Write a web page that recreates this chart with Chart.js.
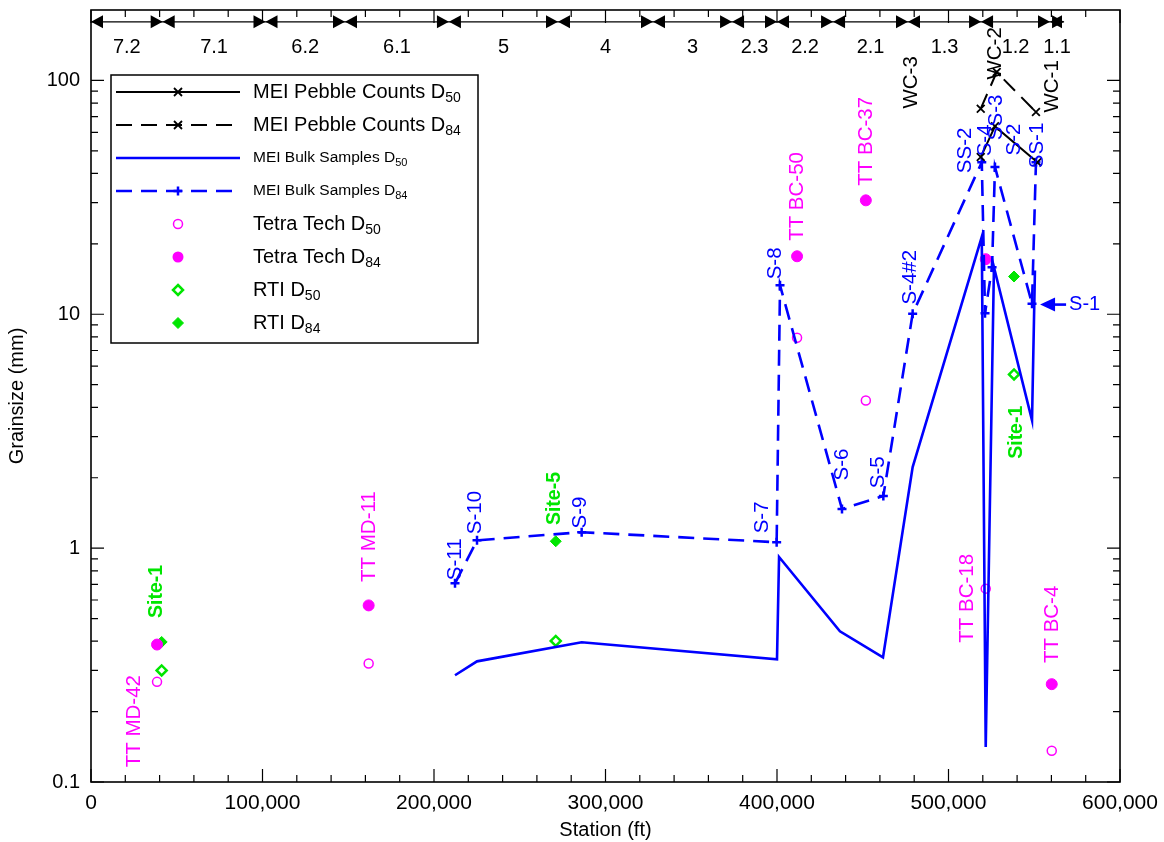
<!DOCTYPE html>
<html>
<head>
<meta charset="utf-8">
<script src="https://cdn.jsdelivr.net/npm/chart.js@4.4.1/dist/chart.umd.min.js"></script>
<style>
  body { margin: 0; background: #fff; }
  canvas { display: block; }
</style>
</head>
<body>
<canvas id="grain-chart" width="1164" height="842"></canvas>
<script>
// station (ft) and grain size (mm)
const pebbleD50Station = [518800, 527100, 551800];
const pebbleD50 = [47.0, 63.6, 44.7];
const pebbleD84Station = [518800, 528100, 551000];
const pebbleD84 = [75.7, 108.5, 73.2];

const bulkD50Station = [212250, 225080, 286100, 400000, 401200, 436700, 461800, 479100, 519400, 521700, 526500, 548700, 550400];
const bulkD50 = [0.286, 0.328, 0.396, 0.335, 0.916, 0.441, 0.341, 2.22, 21.4, 0.141, 15.9, 3.52, 15.4];
const bulkD84Station = [212250, 225080, 286100, 399800, 401760, 437900, 462000, 479100, 519400, 521300, 525400, 527100, 548700, 551000];
const bulkD84 = [0.707, 1.08, 1.17, 1.06, 13.3, 1.47, 1.67, 10.06, 44.7, 10.1, 15.9, 42.6, 11.1, 44.7];

const ttStation = [38500, 161900, 411700, 451800, 521700, 560200];
const ttD50 = [0.268, 0.321, 7.94, 4.28, 0.671, 0.136];
const ttD84 = [0.387, 0.569, 17.7, 30.7, 17.2, 0.262];

const rtiStation = [41200, 271000, 538200];
const rtiD50 = [0.300, 0.401, 5.53];
const rtiD84 = [0.397, 1.07, 14.5];

const reachNames = ['7.2', '7.1', '6.2', '6.1', '5', '4', '3', '2.3', '2.2', '2.1', '1.3', '1.2', '1.1'];
const reachBounds = [0, 41800, 101750, 148100, 208700, 272300, 327700, 373800, 400000, 432700, 476400, 519000, 559200, 567400];

const yTickLabels = [0.1, 1, 10, 100];

// sample labels: text, station, grain size, group
const siteLabels = [
  ['TT MD-42', 25070, 0.182, 'tt'],
  ['Site-1', 38480, 0.653, 'rti'],
  ['TT MD-11', 162100, 1.12, 'tt'],
  ['S-11', 212250, 0.896, 'bulk'],
  ['S-10', 223900, 1.42, 'bulk'],
  ['Site-5', 270550, 1.63, 'rti'],
  ['S-9', 285100, 1.42, 'bulk'],
  ['S-7', 391300, 1.354, 'bulk'],
  ['S-8', 398800, 16.5, 'bulk'],
  ['TT BC-50', 411700, 31.9, 'tt'],
  ['TT BC-37', 451900, 54.9, 'tt'],
  ['S-6', 437900, 2.28, 'bulk'],
  ['S-5', 458900, 2.11, 'bulk'],
  ['S-4#2', 477600, 14.4, 'bulk'],
  ['WC-3', 478100, 98.1, 'pebble'],
  ['SS-2', 509600, 50.2, 'bulk'],
  ['S-4', 521300, 55.4, 'bulk'],
  ['SS-3', 527700, 69.5, 'bulk'],
  ['WC-2', 527100, 130.5, 'pebble'],
  ['S-2', 538200, 55.9, 'bulk'],
  ['SS-1', 551600, 52.7, 'bulk'],
  ['WC-1', 560400, 94.3, 'pebble'],
  ['Site-1', 540000, 3.13, 'rti'],
  ['TT BC-18', 510800, 0.61, 'tt'],
  ['TT BC-4', 560400, 0.472, 'tt']
];
const arrowLabel = ['S-1', 553400, 11.0];

const FONT = '"Liberation Sans", Arial, Helvetica, sans-serif';
const BLUE = '#0000ff';
const MAGENTA = '#ff00ff';
const GREEN = '#00e600';
const groupColor = { tt: MAGENTA, rti: GREEN, bulk: BLUE, pebble: '#000' };
const DASH = [16, 9];

const pts = (xs, ys) => xs.map((x, i) => ({ x: x, y: ys[i] }));

const datasets = [
  { data: pts(pebbleD50Station, pebbleD50), showLine: true, borderColor: '#000', borderWidth: 2,
    pointStyle: 'crossRot', pointRadius: 5.5, pointBorderWidth: 1.8, pointBorderColor: '#000' },
  { data: pts(pebbleD84Station, pebbleD84), showLine: true, borderColor: '#000', borderWidth: 2, borderDash: DASH,
    pointStyle: 'crossRot', pointRadius: 5.5, pointBorderWidth: 1.8, pointBorderColor: '#000' },
  { data: pts(bulkD50Station, bulkD50), showLine: true, borderColor: BLUE, borderWidth: 2.6, pointRadius: 0 },
  { data: pts(bulkD84Station, bulkD84), showLine: true, borderColor: BLUE, borderWidth: 2.6, borderDash: DASH,
    pointStyle: 'cross', pointRadius: 4.5, pointBorderWidth: 2.5, pointBorderColor: BLUE },
  { data: pts(ttStation, ttD50), showLine: false, pointStyle: 'circle', pointRadius: 4.5,
    pointBackgroundColor: '#fff', pointBorderColor: MAGENTA, pointBorderWidth: 1.5 },
  { data: pts(ttStation, ttD84), showLine: false, pointStyle: 'circle', pointRadius: 5.5,
    pointBackgroundColor: MAGENTA, pointBorderColor: MAGENTA, pointBorderWidth: 1 },
  { data: pts(rtiStation, rtiD50), showLine: false, pointStyle: 'rectRot', pointRadius: 5,
    pointBackgroundColor: '#fff', pointBorderColor: GREEN, pointBorderWidth: 2.5 },
  { data: pts(rtiStation, rtiD84), showLine: false, pointStyle: 'rectRot', pointRadius: 5.5,
    pointBackgroundColor: GREEN, pointBorderColor: GREEN, pointBorderWidth: 1 }
];

function drawMarker(ctx, kind, x, y) {
  ctx.save();
  ctx.beginPath();
  if (kind === 'x') {
    ctx.strokeStyle = '#000'; ctx.lineWidth = 1.8;
    ctx.moveTo(x - 4, y - 4); ctx.lineTo(x + 4, y + 4);
    ctx.moveTo(x - 4, y + 4); ctx.lineTo(x + 4, y - 4);
    ctx.stroke();
  } else if (kind === '+') {
    ctx.strokeStyle = BLUE; ctx.lineWidth = 2.5;
    ctx.moveTo(x - 4.5, y); ctx.lineTo(x + 4.5, y);
    ctx.moveTo(x, y - 4.5); ctx.lineTo(x, y + 4.5);
    ctx.stroke();
  } else if (kind === 'oc') {
    ctx.arc(x, y, 4.5, 0, Math.PI * 2);
    ctx.fillStyle = '#fff'; ctx.fill();
    ctx.strokeStyle = MAGENTA; ctx.lineWidth = 1.5; ctx.stroke();
  } else if (kind === 'fc') {
    ctx.arc(x, y, 5.5, 0, Math.PI * 2);
    ctx.fillStyle = MAGENTA; ctx.fill();
  } else {
    const r = kind === 'od' ? 5 : 5.5;
    ctx.moveTo(x, y - r); ctx.lineTo(x + r, y); ctx.lineTo(x, y + r); ctx.lineTo(x - r, y); ctx.closePath();
    ctx.fillStyle = kind === 'od' ? '#fff' : GREEN; ctx.fill();
    ctx.strokeStyle = GREEN; ctx.lineWidth = kind === 'od' ? 2.5 : 1; ctx.stroke();
  }
  ctx.restore();
}

const legendItems = [
  { text: 'MEI Pebble Counts D', sub: '50', size: 20, color: '#000', dash: [], marker: 'x' },
  { text: 'MEI Pebble Counts D', sub: '84', size: 20, color: '#000', dash: DASH, marker: 'x' },
  { text: 'MEI Bulk Samples D', sub: '50', size: 15.5, color: BLUE, dash: [], marker: null },
  { text: 'MEI Bulk Samples D', sub: '84', size: 15.5, color: BLUE, dash: DASH, marker: '+' },
  { text: 'Tetra Tech D', sub: '50', size: 20, marker: 'oc' },
  { text: 'Tetra Tech D', sub: '84', size: 20, marker: 'fc' },
  { text: 'RTI D', sub: '50', size: 20, marker: 'od' },
  { text: 'RTI D', sub: '84', size: 20, marker: 'fd' }
];

const decorPlugin = {
  id: 'decor',
  afterDatasetsDraw(chart) {
    const { ctx, chartArea: a } = chart;
    const xs = chart.scales.x, ys = chart.scales.y;
    ctx.save();

    // frame and inward ticks
    ctx.strokeStyle = '#000';
    ctx.lineWidth = 1.6;
    ctx.strokeRect(a.left, a.top, a.right - a.left, a.bottom - a.top);
    ctx.lineWidth = 1.2;
    ctx.beginPath();
    for (let v = 0; v <= 600000; v += 20000) {
      const px = xs.getPixelForValue(v);
      const len = v % 100000 === 0 ? 13 : 7;
      ctx.moveTo(px, a.bottom); ctx.lineTo(px, a.bottom - len);
      ctx.moveTo(px, a.top); ctx.lineTo(px, a.top + len);
    }
    for (const d of [0.1, 1, 10, 100]) {
      for (let m = 1; m <= 9; m++) {
        const v = d * m;
        if (v >= 199) break;
        const py = ys.getPixelForValue(v);
        const len = m === 1 ? 13 : 7;
        ctx.moveTo(a.left, py); ctx.lineTo(a.left + len, py);
        ctx.moveTo(a.right, py); ctx.lineTo(a.right - len, py);
      }
    }
    ctx.stroke();

    // reach bar along the top
    const lineY = ys.getPixelForValue(178);
    const labY = ys.getPixelForValue(138);
    const first = xs.getPixelForValue(reachBounds[0]);
    const last = xs.getPixelForValue(reachBounds[reachBounds.length - 1]);
    ctx.lineWidth = 1.2;
    ctx.beginPath();
    ctx.moveTo(first, lineY); ctx.lineTo(last, lineY);
    ctx.stroke();
    ctx.fillStyle = '#000';
    const tw = 12, th = 6.5;
    ctx.font = '20px ' + FONT;
    ctx.textAlign = 'center';
    ctx.textBaseline = 'middle';
    reachNames.forEach((name, i) => {
      const p0 = xs.getPixelForValue(reachBounds[i]);
      const p1 = xs.getPixelForValue(reachBounds[i + 1]);
      ctx.beginPath();
      ctx.moveTo(p0, lineY); ctx.lineTo(p0 + tw, lineY - th); ctx.lineTo(p0 + tw, lineY + th); ctx.closePath();
      ctx.fill();
      ctx.beginPath();
      ctx.moveTo(p1, lineY); ctx.lineTo(p1 - tw, lineY - th); ctx.lineTo(p1 - tw, lineY + th); ctx.closePath();
      ctx.fill();
      ctx.fillText(name, (p0 + p1) / 2, labY);
    });

    // sample labels, rotated
    siteLabels.forEach(([text, sx, sy, grp]) => {
      const px = xs.getPixelForValue(sx), py = ys.getPixelForValue(sy);
      ctx.save();
      ctx.translate(px, py);
      ctx.rotate(-Math.PI / 2);
      ctx.fillStyle = groupColor[grp];
      ctx.font = (grp === 'rti' ? 'bold 19.5px ' : '20.5px ') + FONT;
      ctx.fillText(text, 0, 0);
      ctx.restore();
    });

    // S-1 arrow
    const ax = xs.getPixelForValue(arrowLabel[1]), ay = ys.getPixelForValue(arrowLabel[2]);
    ctx.fillStyle = BLUE; ctx.strokeStyle = BLUE; ctx.lineWidth = 2.6;
    ctx.beginPath();
    ctx.moveTo(ax, ay); ctx.lineTo(ax + 15, ay - 7); ctx.lineTo(ax + 15, ay + 7); ctx.closePath();
    ctx.fill();
    ctx.beginPath(); ctx.moveTo(ax + 12, ay); ctx.lineTo(ax + 26, ay); ctx.stroke();
    ctx.font = '20px ' + FONT;
    ctx.textAlign = 'left';
    ctx.fillText(arrowLabel[0], ax + 29, ay);

    // legend
    const lx = 111, ly = 75, lw = 367, lh = 268;
    ctx.fillStyle = '#fff';
    ctx.fillRect(lx, ly, lw, lh);
    ctx.strokeStyle = '#000'; ctx.lineWidth = 1.5;
    ctx.strokeRect(lx, ly, lw, lh);
    legendItems.forEach((it, i) => {
      const y = 92 + i * 33;
      if (it.color) {
        ctx.save();
        ctx.strokeStyle = it.color;
        ctx.lineWidth = it.color === BLUE ? 2.6 : 2;
        ctx.setLineDash(it.dash);
        ctx.beginPath(); ctx.moveTo(116, y); ctx.lineTo(240, y); ctx.stroke();
        ctx.restore();
      }
      if (it.marker) drawMarker(ctx, it.marker, 178, y);
      ctx.fillStyle = '#000';
      ctx.textAlign = 'left';
      ctx.textBaseline = 'middle';
      ctx.font = it.size + 'px ' + FONT;
      ctx.fillText(it.text, 253, y);
      const w = ctx.measureText(it.text).width;
      ctx.font = Math.round(it.size * 0.7) + 'px ' + FONT;
      ctx.fillText(it.sub, 253 + w, y + it.size * 0.32);
    });
    ctx.restore();
  }
};

new Chart(document.getElementById('grain-chart'), {
  type: 'scatter',
  data: { datasets: datasets },
  options: {
    responsive: false,
    animation: false,
    layout: { padding: { top: 10, right: 44, left: 0, bottom: 0 } },
    plugins: { legend: { display: false }, tooltip: { enabled: false } },
    scales: {
      x: {
        type: 'linear', min: 0, max: 600000,
        afterFit: s => { s.height = 60; s.paddingLeft = 0; s.paddingRight = 0; },
        grid: { display: false, drawTicks: false },
        border: { display: false },
        ticks: {
          stepSize: 100000, maxRotation: 0, padding: 9, color: '#000',
          font: { family: FONT, size: 21 },
          callback: v => v.toLocaleString('en-US')
        },
        title: { display: true, text: 'Station (ft)', color: '#000', font: { family: FONT, size: 20 }, padding: 0 }
      },
      y: {
        type: 'logarithmic', min: 0.1, max: 200,
        afterFit: s => { s.width = 91; s.paddingTop = 0; s.paddingBottom = 0; },
        afterBuildTicks: s => { s.ticks = yTickLabels.map(v => ({ value: v })); },
        grid: { display: false, drawTicks: false },
        border: { display: false },
        ticks: {
          padding: 11, color: '#000',
          font: { family: FONT, size: 20 },
          callback: v => yTickLabels.includes(v) ? String(v) : ''
        },
        title: { display: true, text: 'Grainsize (mm)', color: '#000', font: { family: FONT, size: 20 }, padding: { top: 5 } }
      }
    }
  },
  plugins: [decorPlugin]
});
</script>
</body>
</html>
